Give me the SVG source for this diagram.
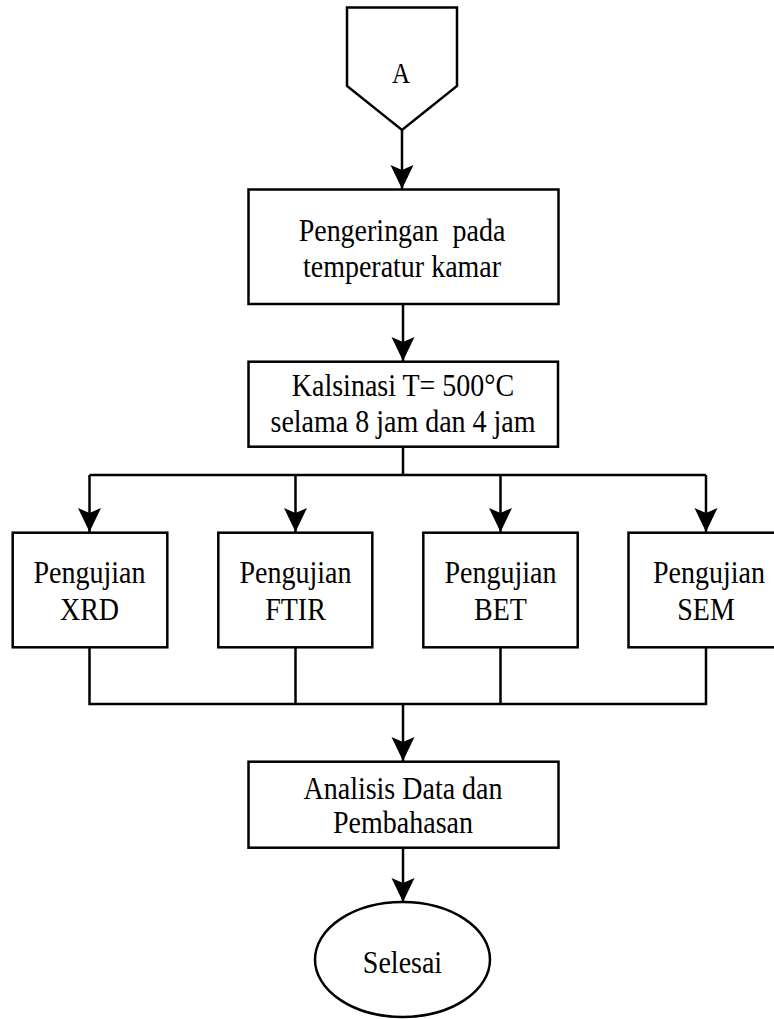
<svg xmlns="http://www.w3.org/2000/svg" width="774" height="1019" viewBox="0 0 774 1019">
<defs>
<style>
.shape{fill:#fff;stroke:#000;stroke-width:2.5}
.line{fill:none;stroke:#000;stroke-width:2.5}
.t{font-family:"Liberation Serif","Times New Roman",serif;font-size:28px;fill:#000;text-anchor:middle}
</style>
<marker id="arr" markerUnits="userSpaceOnUse" markerWidth="28" markerHeight="26" viewBox="-26 -13 28 26" refX="0" refY="0" orient="auto">
<path d="M0,0 L-24,-11.5 L-19,0 L-24,11.5 Z" fill="#000"/>
</marker>
</defs>
<rect width="774" height="1019" fill="#fff"/>
<g id="connectors">
<line class="line" x1="402" y1="130" x2="402" y2="189" marker-end="url(#arr)"/>
<line class="line" x1="403" y1="304" x2="403" y2="361" marker-end="url(#arr)"/>
<polyline class="line" points="403,447 403,475"/>
<polyline class="line" points="89.5,475 706,475"/>
<line class="line" x1="89.5" y1="475" x2="89.5" y2="532" marker-end="url(#arr)"/>
<line class="line" x1="295.5" y1="475" x2="295.5" y2="532" marker-end="url(#arr)"/>
<line class="line" x1="500.5" y1="475" x2="500.5" y2="532" marker-end="url(#arr)"/>
<line class="line" x1="706" y1="475" x2="706" y2="532" marker-end="url(#arr)"/>
<polyline class="line" points="89.5,647 89.5,704 706,704 706,647"/>
<line class="line" x1="295.5" y1="647" x2="295.5" y2="704"/>
<line class="line" x1="500.5" y1="647" x2="500.5" y2="704"/>
<line class="line" x1="403" y1="704" x2="403" y2="761" marker-end="url(#arr)"/>
<line class="line" x1="403" y1="848" x2="403" y2="902" marker-end="url(#arr)"/>
</g>
<g id="nodeA">
<polygon class="shape" points="347,7.5 457,7.5 457,86 402,130 347,86"/>
<text class="t" transform="translate(401,83) scale(1,1.15)" style="font-size:25px">A</text>
</g>
<g id="node-pengeringan">
<rect class="shape" x="248.5" y="189.5" width="310" height="114.5"/>
<text class="t" transform="translate(402,241) scale(1,1.13)" xml:space="preserve">Pengeringan  pada</text>
<text class="t" transform="translate(402,277) scale(1,1.13)">temperatur kamar</text>
</g>
<g id="node-kalsinasi">
<rect class="shape" x="248.5" y="361.7" width="309.5" height="85"/>
<text class="t" transform="translate(403,396) scale(1,1.13)">Kalsinasi T= 500°C</text>
<text class="t" transform="translate(403,432) scale(1,1.13)">selama 8 jam dan 4 jam</text>
</g>
<g id="node-xrd">
<rect class="shape" x="12.7" y="532.7" width="154.6" height="114.6"/>
<text class="t" transform="translate(89.5,583) scale(1,1.13)">Pengujian</text>
<text class="t" transform="translate(89.5,620) scale(1,1.13)">XRD</text>
</g>
<g id="node-ftir">
<rect class="shape" x="218.3" y="532.7" width="154" height="114.6"/>
<text class="t" transform="translate(295.5,583) scale(1,1.13)">Pengujian</text>
<text class="t" transform="translate(295.5,620) scale(1,1.13)">FTIR</text>
</g>
<g id="node-bet">
<rect class="shape" x="423.3" y="532.7" width="154.4" height="114.6"/>
<text class="t" transform="translate(500.5,583) scale(1,1.13)">Pengujian</text>
<text class="t" transform="translate(500.5,620) scale(1,1.13)">BET</text>
</g>
<g id="node-sem">
<rect class="shape" x="628.5" y="532.7" width="155" height="114.6"/>
<text class="t" transform="translate(709,583) scale(1,1.13)">Pengujian</text>
<text class="t" transform="translate(706,620) scale(1,1.13)">SEM</text>
</g>
<g id="node-analisis">
<rect class="shape" x="248.5" y="761.7" width="310" height="86"/>
<text class="t" transform="translate(403,799) scale(1,1.13)">Analisis Data dan</text>
<text class="t" transform="translate(403,833) scale(1,1.13)">Pembahasan</text>
</g>
<g id="node-selesai">
<ellipse class="shape" cx="402.5" cy="959.5" rx="87.5" ry="57.5"/>
<text class="t" transform="translate(402.5,973) scale(1,1.13)">Selesai</text>
</g>
</svg>
